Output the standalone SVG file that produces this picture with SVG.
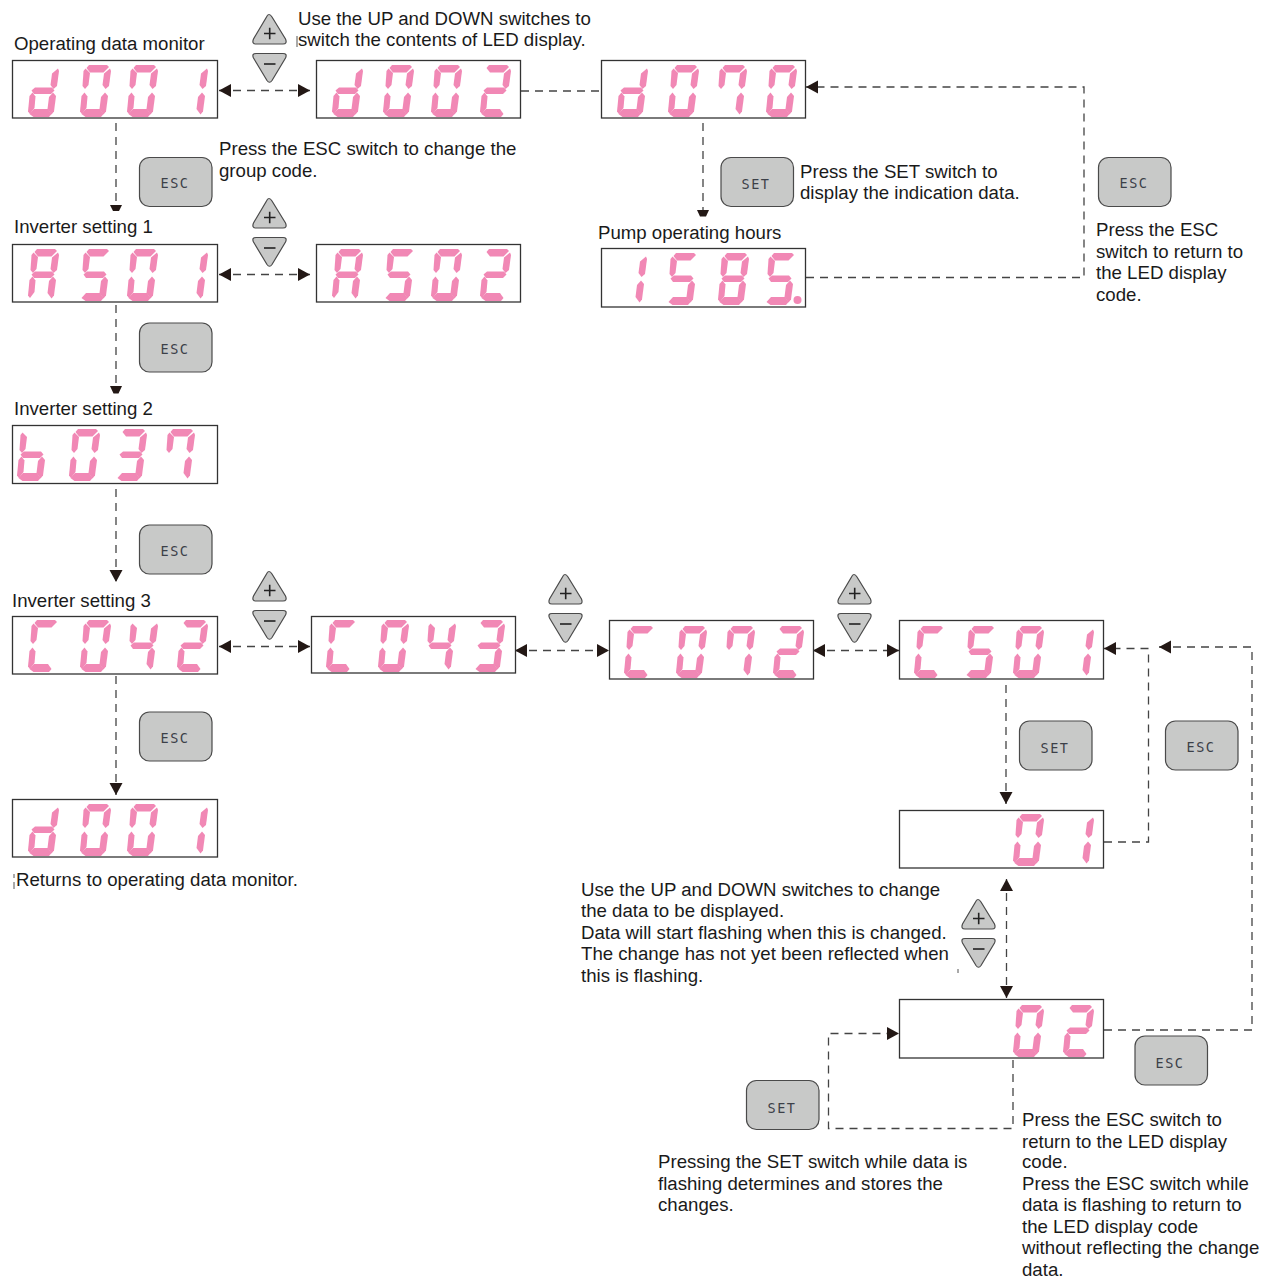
<svg xmlns="http://www.w3.org/2000/svg" width="1275" height="1278" viewBox="0 0 1275 1278">
<style>
text{font-family:"Liberation Sans",Arial,sans-serif;font-size:18.65px;fill:#1a1a1a}
.box{fill:#fff;stroke:#333;stroke-width:1.3}
.seg{fill:#f188b5}
.btn{fill:#c8c9c8;stroke:#4a4a4a;stroke-width:1.2}
text.bt{font-family:"DejaVu Sans Mono","Liberation Mono",monospace;font-size:13.5px;letter-spacing:1.5px;fill:#3c4048;text-anchor:middle}
.sym{fill:none;stroke:#222;stroke-width:1.6}
.dash{fill:none;stroke:#444;stroke-width:1.3;stroke-dasharray:8 6}
.head{fill:#231815}
.tick{stroke:#555;stroke-width:1;fill:none}
</style>
<defs>
<marker id="arr" markerUnits="userSpaceOnUse" markerWidth="13" markerHeight="14" refX="12" refY="7" orient="auto-start-reverse"><path d="M0,0.5 L12,7 L0,13.5 Z" fill="#231815"/></marker>
<polygon id="sa" class="seg" points="9,0 27,0 29,2 23.5,7.5 10,7.5 6.500,3"/>
<polygon id="sb" class="seg" points="30,3.500 31,6 29,21 25.500,24 22.500,20 24,8.500"/>
<polygon id="sf" class="seg" points="5.500,3.500 10,8 8.500,20 5,24 2.500,21 3.500,6"/>
<polygon id="sg" class="seg" points="7,22.500 24,22.500 26.500,25.500 23,29 6,29 3.500,25.500"/>
<polygon id="se" class="seg" points="4.500,27.500 7.500,31.500 6.500,43 2,49 0,46.500 1.500,31"/>
<polygon id="sc" class="seg" points="25,27.500 28,31 26,46.500 23.500,49.500 19.500,44 21,32"/>
<polygon id="sd" class="seg" points="6,44 20,44 23.500,49 21,52 5.500,52 1.500,49"/>
<g id="d0"><use href="#sa"/><use href="#sb"/><use href="#sc"/><use href="#sd"/><use href="#se"/><use href="#sf"/></g>
<g id="d1"><use href="#sb"/><use href="#sc"/></g>
<g id="d2"><use href="#sa"/><use href="#sb"/><use href="#sg"/><use href="#se"/><use href="#sd"/></g>
<g id="d3"><use href="#sa"/><use href="#sb"/><use href="#sg"/><use href="#sc"/><use href="#sd"/></g>
<g id="d4"><use href="#sf"/><use href="#sb"/><use href="#sg"/><use href="#sc"/></g>
<g id="d5"><use href="#sa"/><use href="#sf"/><use href="#sg"/><use href="#sc"/><use href="#sd"/></g>
<g id="d7"><use href="#sa"/><use href="#sf"/><use href="#sb"/><use href="#sc"/></g>
<g id="d8"><use href="#d0"/><use href="#sg"/></g>
<g id="dA"><use href="#sa"/><use href="#sb"/><use href="#sc"/><use href="#se"/><use href="#sf"/><use href="#sg"/></g>
<g id="db"><use href="#sf"/><use href="#se"/><use href="#sg"/><use href="#sc"/><use href="#sd"/></g>
<g id="dC"><use href="#sa"/><use href="#sf"/><use href="#se"/><use href="#sd"/></g>
<g id="dd"><use href="#sb"/><use href="#sc"/><use href="#sd"/><use href="#se"/><use href="#sg"/></g>
<g id="up"><path class="btn" d="M17,0.5 Q18.5,0.5 20,3 L33.5,25 Q35.5,30 31,30 L4,30 Q-0.5,30 1.5,25 L14.5,3 Q15.5,0.5 17,0.5 Z"/><path class="sym" d="M12,19.5 H23.5 M17.7,13.7 V25.3"/></g>
<g id="down"><path class="btn" d="M4,0.5 L31,0.5 Q35.5,0.5 33.5,5 L20,27.5 Q17.5,31 15,27.5 L1.5,5 Q-0.5,0.5 4,0.5 Z"/><path class="sym" d="M12,11 H23.5"/></g>
<g id="updown"><use href="#up"/><use href="#down" y="39"/></g>
<rect id="key" class="btn" x="0" y="0" width="72.500" height="49" rx="10"/>
</defs>

<g id="connectors">
<path class="dash" d="M219,90.500 H310" marker-start="url(#arr)" marker-end="url(#arr)"/>
<path class="dash" d="M116,123 V204"/>
<polygon class="head" points="110,205 122,205 119,211 113,211"/>
<path class="dash" d="M219,274.500 H310" marker-start="url(#arr)" marker-end="url(#arr)"/>
<path class="dash" d="M521,91 H600"/>
<path class="dash" d="M703,123 V210"/>
<polygon class="head" points="697,210 709,210 706,216.500 700,216.500"/>
<path class="dash" d="M806,277.500 H1084 V87 H806" marker-end="url(#arr)"/>
<path class="dash" d="M116,305 V385"/>
<polygon class="head" points="110,386 122,386 118.500,393.500 113.500,393.500"/>
<path class="dash" d="M116,489 V582" marker-end="url(#arr)"/>
<path class="dash" d="M219,646.500 H310" marker-start="url(#arr)" marker-end="url(#arr)"/>
<path class="dash" d="M515,650.500 H609" marker-start="url(#arr)" marker-end="url(#arr)"/>
<path class="dash" d="M813,650.500 H899" marker-start="url(#arr)" marker-end="url(#arr)"/>
<path class="dash" d="M116,676 V795" marker-end="url(#arr)"/>
<path class="dash" d="M1006,685 V804" marker-end="url(#arr)"/>
<path class="dash" d="M1104,842 H1148.500 V648.500 H1104" marker-end="url(#arr)"/>
<path class="dash" d="M1104,1030 H1252 V647 H1159" marker-end="url(#arr)"/>
<path class="dash" d="M1006.500,879 V998" marker-start="url(#arr)" marker-end="url(#arr)"/>
<path class="dash" d="M1013,1060 V1128.500 H828.500 V1033.500 H899" marker-end="url(#arr)"/>
</g>

<g id="marks">
<path class="tick" d="M297,36 V47 M14,874 V878 M14,882 V889 M958,969 V973"/>
</g>

<g id="d001-top"><rect class="box" x="12.500" y="60.500" width="205" height="57.500"/><use href="#dd" x="28" y="65"/><use href="#d0" x="80" y="65"/><use href="#d0" x="127" y="65"/><use href="#d1" x="177" y="65"/></g>
<g id="d002"><rect class="box" x="316.500" y="60.500" width="204" height="57.500"/><use href="#dd" x="332" y="65"/><use href="#d0" x="383" y="65"/><use href="#d0" x="431" y="65"/><use href="#d2" x="480" y="65"/></g>
<g id="d070"><rect class="box" x="601.500" y="60.500" width="204" height="57.500"/><use href="#dd" x="617" y="65"/><use href="#d0" x="668" y="65"/><use href="#d7" x="716" y="65"/><use href="#d0" x="766" y="65"/></g>
<g id="A501"><rect class="box" x="12.500" y="244.500" width="205" height="57.500"/><use href="#dA" x="28" y="249"/><use href="#d5" x="80" y="249"/><use href="#d0" x="127" y="249"/><use href="#d1" x="177" y="249"/></g>
<g id="A502"><rect class="box" x="316.500" y="244.500" width="204" height="57.500"/><use href="#dA" x="332" y="249"/><use href="#d5" x="384" y="249"/><use href="#d0" x="431" y="249"/><use href="#d2" x="480" y="249"/></g>
<g id="h1585"><rect class="box" x="601.500" y="248.500" width="204" height="58.500"/><use href="#d1" x="616" y="253"/><use href="#d5" x="667" y="253"/><use href="#d8" x="718" y="253"/><use href="#d5" x="765" y="253"/><circle class="seg" cx="797.500" cy="300" r="4"/></g>
<g id="b037"><rect class="box" x="12.500" y="425.500" width="205" height="58"/><use href="#db" x="17" y="429"/><use href="#d0" x="69" y="429"/><use href="#d3" x="116" y="429"/><use href="#d7" x="164" y="429"/></g>
<g id="C042"><rect class="box" x="12.500" y="616.500" width="205" height="57.500"/><use href="#dC" x="28" y="620"/><use href="#d0" x="80" y="620"/><use href="#d4" x="127" y="620"/><use href="#d2" x="177" y="620"/></g>
<g id="C043"><rect class="box" x="311.500" y="616.500" width="204" height="56.500"/><use href="#dC" x="326" y="620"/><use href="#d0" x="378" y="620"/><use href="#d4" x="425" y="620"/><use href="#d3" x="474" y="620"/></g>
<g id="C072"><rect class="box" x="609.500" y="620.500" width="204" height="58.500"/><use href="#dC" x="624" y="626"/><use href="#d0" x="676" y="626"/><use href="#d7" x="724" y="626"/><use href="#d2" x="773" y="626"/></g>
<g id="C501"><rect class="box" x="899.500" y="620.500" width="204" height="58.500"/><use href="#dC" x="914" y="626"/><use href="#d5" x="965" y="626"/><use href="#d0" x="1013" y="626"/><use href="#d1" x="1063" y="626"/></g>
<g id="d001-end"><rect class="box" x="12.500" y="799.500" width="205" height="57.500"/><use href="#dd" x="28" y="804"/><use href="#d0" x="80" y="804"/><use href="#d0" x="127" y="804"/><use href="#d1" x="177" y="804"/></g>
<g id="v01"><rect class="box" x="899.500" y="810.500" width="204" height="57.500"/><use href="#d0" x="1013" y="814"/><use href="#d1" x="1063" y="814"/></g>
<g id="v02"><rect class="box" x="899.500" y="999.500" width="204" height="58.500"/><use href="#d0" x="1013" y="1005"/><use href="#d2" x="1063" y="1005"/></g>

<g id="ud1"><use href="#updown" x="252" y="14"/></g>
<g id="ud2"><use href="#updown" x="252" y="198"/></g>
<g id="ud3"><use href="#updown" x="252" y="571"/></g>
<g id="ud4"><use href="#updown" x="548" y="574"/></g>
<g id="ud5"><use href="#updown" x="837" y="574"/></g>
<g id="ud6"><use href="#updown" x="961" y="899"/></g>

<g id="esc1"><use href="#key" x="139.500" y="157.500"/><text class="bt" x="175" y="188">ESC</text></g>
<g id="esc2"><use href="#key" x="139.500" y="323"/><text class="bt" x="175" y="353.500">ESC</text></g>
<g id="esc3"><use href="#key" x="139.500" y="525"/><text class="bt" x="175" y="555.500">ESC</text></g>
<g id="esc4"><use href="#key" x="139.500" y="712"/><text class="bt" x="175" y="743">ESC</text></g>
<g id="esc5"><use href="#key" x="1098.500" y="157.500"/><text class="bt" x="1134" y="188">ESC</text></g>
<g id="esc6"><use href="#key" x="1165.500" y="721"/><text class="bt" x="1201" y="751.500">ESC</text></g>
<g id="esc7"><use href="#key" x="1135" y="1036"/><text class="bt" x="1170" y="1067.500">ESC</text></g>
<g id="set1"><use href="#key" x="721" y="157.500"/><text class="bt" x="756" y="189">SET</text></g>
<g id="set2"><use href="#key" x="1019.500" y="721"/><text class="bt" x="1055" y="752.500">SET</text></g>
<g id="set3"><use href="#key" x="746.500" y="1080.500"/><text class="bt" x="782" y="1113">SET</text></g>

<g id="labels">
<text x="298" y="25">Use the UP and DOWN switches to</text>
<text x="298" y="46">switch the contents of LED display.</text>
<text x="14" y="50">Operating data monitor</text>
<text x="219" y="155">Press the ESC switch to change the</text>
<text x="219" y="177">group code.</text>
<text x="800" y="178">Press the SET switch to</text>
<text x="800" y="199">display the indication data.</text>
<text x="14" y="233">Inverter setting 1</text>
<text x="598" y="239">Pump operating hours</text>
<text x="1096" y="236">Press the ESC</text>
<text x="1096" y="258">switch to return to</text>
<text x="1096" y="279">the LED display</text>
<text x="1096" y="301">code.</text>
<text x="14" y="415">Inverter setting 2</text>
<text x="12" y="607">Inverter setting 3</text>
<text x="16" y="886">Returns to operating data monitor.</text>
<text x="581" y="896">Use the UP and DOWN switches to change</text>
<text x="581" y="917">the data to be displayed.</text>
<text x="581" y="939">Data will start flashing when this is changed.</text>
<text x="581" y="960">The change has not yet been reflected when</text>
<text x="581" y="982">this is flashing.</text>
<text x="658" y="1168">Pressing the SET switch while data is</text>
<text x="658" y="1190">flashing determines and stores the</text>
<text x="658" y="1211">changes.</text>
<text x="1022" y="1126">Press the ESC switch to</text>
<text x="1022" y="1148">return to the LED display</text>
<text x="1022" y="1168">code.</text>
<text x="1022" y="1190">Press the ESC switch while</text>
<text x="1022" y="1211">data is flashing to return to</text>
<text x="1022" y="1233">the LED display code</text>
<text x="1022" y="1254">without reflecting the change</text>
<text x="1022" y="1276">data.</text>
</g>
</svg>
